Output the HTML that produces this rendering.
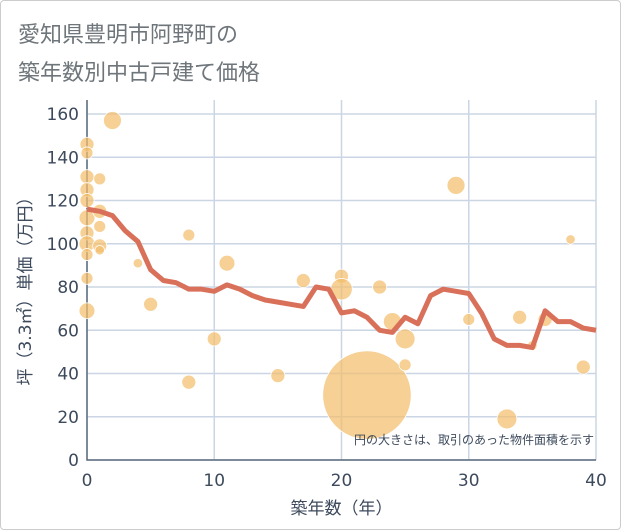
<!DOCTYPE html>
<html><head><meta charset="utf-8"><style>
body{margin:0;background:#fff;}
#wrap{position:relative;width:621px;height:530px;box-sizing:border-box;border:1px solid #ccc;border-radius:4px;background:#fff;}
.title{position:absolute;left:17px;font:22px "Liberation Sans","Noto Sans CJK JP",sans-serif;color:#6f767b;}
svg text{font-family:"DejaVu Sans","Noto Sans CJK JP",sans-serif;}
</style></head><body>
<div id="wrap">
<div class="title" style="top:16px">愛知県豊明市阿野町の</div>
<div class="title" style="top:54px">築年数別中古戸建て価格</div>
<svg id="chart" width="621" height="530" style="position:absolute;left:-1px;top:-1px"></svg>
</div>
<script>
const xTicks=[0,10,20,30,40];
const yTicks=[0,20,40,60,80,100,120,140,160];
const lineYears=[0,1,2,3,4,5,6,7,8,9,10,11,12,13,14,15,16,17,18,19,20,21,22,23,24,25,26,27,28,29,30,31,32,33,34,35,36,37,38,39,40];
const lineValues=[116,115,113,106,101,88,83,82,79,79,78,81,79,76,74,73,72,71,80,79,68,69,66,60,59,66,63,76,79,78,77,68,56,53,53,52,69,64,64,61,60];
const bubbleYears=[22,2,29,38,0,0,0,0,0,1,0,1,1,0,0,1,1,0,0,0,4,5,8,8,10,11,15,17,20,20,23,24,25,25,30,33,34,35,36,39];
const bubbleValues=[30,157,127,102,146,142,131,125,120,130,112,115,108,105,100,99,97,95,84,69,91,72,104,36,56,91,39,83,85,79,80,64,56,44,65,19,66,53,65,43];
const bubbleAreas=[870,36,36,10,22,16,22,22,22,16,28,22,16,22,28,22,10,16,16,28,10,22,16,22,22,28,22,22,22,52,22,36,44,16,16,44,22,10,22,22];
const NS='http://www.w3.org/2000/svg';
const svg=document.getElementById('chart');
const X0=87,X1=596,Y0=460,Y1=114,XMAX=40,YMAX=160;
const sx=v=>X0+(X1-X0)*v/XMAX, sy=v=>Y0-(Y0-Y1)*v/YMAX;
function mk(t,a,p){const e=document.createElementNS(NS,t);for(const k in a)e.setAttribute(k,a[k]);(p||svg).appendChild(e);return e;}
const grid=mk('g',{});


yTicks.forEach(v=>{
 const l=mk('line',{x1:X0,x2:X1,y1:sy(v),y2:sy(v),stroke:'#cbd6e4','stroke-width':1.5},grid);
 
 
 const t=mk('text',{x:X0-8,y:sy(v)+6,'text-anchor':'end','font-size':17,fill:'#3d4a5c'});
 t.textContent=v;
 
 
});
xTicks.forEach(v=>{
 const l=mk('line',{x1:sx(v),x2:sx(v),y1:Y1-14,y2:Y0,stroke:'#cbd6e4','stroke-width':1.5},grid);
 
 
 const t=mk('text',{x:sx(v),y:Y0+26,'text-anchor':'middle','font-size':17,fill:'#3d4a5c'});
 t.textContent=v;
 
 
});
const ax=mk('path',{d:`M${X0},${Y1-14}V${Y0}H${X1}`,stroke:'#5a6a7c','stroke-width':1.5,fill:'none'});


const bg=mk('g',{});


bubbleYears.forEach((yr,i)=>{
 const c=mk('circle',{cx:sx(yr),cy:sy(bubbleValues[i]),r:Math.sqrt(bubbleAreas[i])*1.5,fill:'rgba(242,190,108,0.72)',stroke:'#fff','stroke-width':0.8},bg);
 
 
});
const ln=mk('polyline',{points:lineYears.map((y,i)=>sx(y)+','+sy(lineValues[i])).join(' '),fill:'none',stroke:'#d9705a','stroke-width':5,'stroke-linejoin':'round'});


const note=mk('text',{x:594,y:444,'text-anchor':'end','font-size':12,fill:'#3d4a5c'});
note.textContent='円の大きさは、取引のあった物件面積を示す';


const xt=mk('text',{x:(X0+X1)/2,y:514,'text-anchor':'middle','font-size':17,fill:'#3d4a5c'});
xt.textContent='築年数（年）';


const yt=mk('text',{x:0,y:0,'text-anchor':'middle','font-size':17,fill:'#3d4a5c',transform:`translate(31,${(Y0+Y1)/2}) rotate(-90)`});
yt.textContent='坪（3.3㎡）単価（万円）';


</script>
</body></html>
